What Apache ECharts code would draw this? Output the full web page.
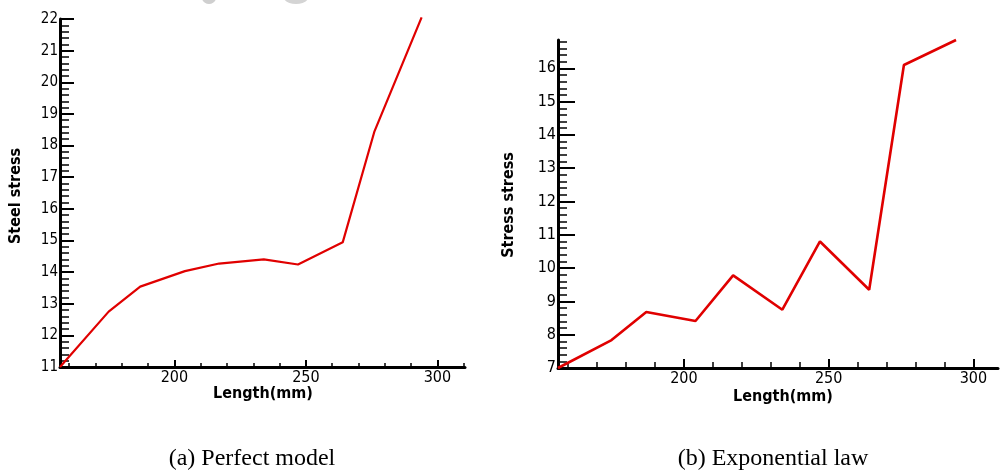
<!DOCTYPE html>
<html>
<head>
<meta charset="utf-8">
<script src="https://cdn.jsdelivr.net/npm/echarts@6/dist/echarts.min.js"></script>
<style>
  html, body { margin: 0; padding: 0; background: #ffffff; }
  #chart { width: 1000px; height: 476px; }
</style>
</head>
<body>
<div id="chart"></div>
<script>
// Length along the member (mm), shared by both panels
const lengthMm = [156.5, 175, 187, 204, 217, 234, 247, 264, 276, 294];

// (a) Perfect model: steel stress
const steelStress = [11.0, 12.75, 13.54, 14.03, 14.27, 14.40, 14.24, 14.94, 18.43, 22.05];

// (b) Exponential law: stress
const expStress = [7.0, 7.84, 8.68, 8.41, 9.78, 8.75, 10.8, 9.35, 16.1, 16.85];

// Tick positions
const xMajorTicks = [200, 250, 300];
const xMinorTicks = [160, 170, 180, 190, 210, 220, 230, 240, 260, 270, 280, 290, 300, 310];
const yMajorA = [11, 12, 13, 14, 15, 16, 17, 18, 19, 20, 21, 22];
const yMajorB = [7, 8, 9, 10, 11, 12, 13, 14, 15, 16];

function minorTicks(lo, hi, step) {
  const out = [];
  for (let v = lo; v <= hi + 1e-9; v += step) out.push(Math.round(v * 100) / 100);
  return out;
}

const labelFont = '"DejaVu Sans Condensed", "Liberation Sans Narrow", "DejaVu Sans", sans-serif';
const titleFont = '"DejaVu Sans Condensed", "DejaVu Sans", sans-serif';
const captionFont = '24px "Liberation Serif", "Times New Roman", serif';
const axisColor = '#000';
const red = '#e00000';

function xAxes(gridIndex, min, max, majorLen, minorLen, fontSize) {
  return [
    {
      type: 'value', gridIndex, min, max,
      axisLine: { lineStyle: { color: axisColor, width: 3 } },
      axisTick: { inside: true, length: majorLen, customValues: xMajorTicks, lineStyle: { color: axisColor, width: 2 } },
      axisLabel: { customValues: xMajorTicks, color: '#000', fontFamily: labelFont, fontSize, margin: 3 },
      splitLine: { show: false }
    },
    {
      type: 'value', gridIndex, min, max, position: 'bottom',
      axisLine: { show: false },
      axisTick: { inside: true, length: minorLen, customValues: xMinorTicks.filter(v => v <= max), lineStyle: { color: axisColor, width: 1.5 } },
      axisLabel: { show: false },
      splitLine: { show: false }
    }
  ];
}

function yAxes(gridIndex, min, max, majors, majorLen, minorLen, fontSize) {
  return [
    {
      type: 'value', gridIndex, min, max,
      axisLine: { show: true, lineStyle: { color: axisColor, width: 3 } },
      axisTick: { show: true, inside: true, length: majorLen, customValues: majors, lineStyle: { color: axisColor, width: 2 } },
      axisLabel: { customValues: majors, color: '#000', fontFamily: labelFont, fontSize, margin: 2 },
      splitLine: { show: false }
    },
    {
      type: 'value', gridIndex, min, max, position: 'left',
      axisLine: { show: false },
      axisTick: { show: true, inside: true, length: minorLen, customValues: minorTicks(min, max, 0.2), lineStyle: { color: axisColor, width: 1.5 } },
      axisLabel: { show: false },
      splitLine: { show: false }
    }
  ];
}

const chart = echarts.init(document.getElementById('chart'), null, { renderer: 'canvas' });

chart.setOption({
  backgroundColor: '#ffffff',
  animation: false,
  grid: [
    { left: 60, top: 19, width: 405, height: 348 },
    { left: 558, top: 40, width: 440, height: 328 }
  ],
  xAxis: [
    ...xAxes(0, 156.5, 310.5, 7, 4, 16),
    ...xAxes(1, 156.5, 308.5, 9, 6, 16)
  ],
  yAxis: [
    ...yAxes(0, 11, 22, yMajorA, 14, 9, 15),
    ...yAxes(1, 7, 16.85, yMajorB, 17, 9, 16)
  ],
  series: [
    {
      type: 'line', xAxisIndex: 0, yAxisIndex: 0,
      data: lengthMm.map((x, i) => [x, steelStress[i]]),
      showSymbol: false, clip: false,
      lineStyle: { color: red, width: 2.2 }
    },
    {
      type: 'line', xAxisIndex: 2, yAxisIndex: 2,
      data: lengthMm.map((x, i) => [x, expStress[i]]),
      showSymbol: false, clip: false,
      lineStyle: { color: red, width: 2.6 }
    }
  ],
  graphic: [
    // faint grey marks along the top edge
    { type: 'ellipse', shape: { cx: 209, cy: -2, rx: 7, ry: 6 }, style: { fill: '#cfcfcf' }, silent: true },
    { type: 'ellipse', shape: { cx: 296, cy: -4, rx: 13, ry: 8 }, style: { fill: '#d4d4d4' }, silent: true },
    // axis titles
    { type: 'text', rotation: Math.PI / 2, x: 16, y: 196,
      style: { text: 'Steel stress', font: 'bold 16px ' + titleFont, fill: '#000', textAlign: 'center', textVerticalAlign: 'middle' } },
    { type: 'text', rotation: Math.PI / 2, x: 509, y: 205,
      style: { text: 'Stress stress', font: 'bold 16px ' + titleFont, fill: '#000', textAlign: 'center', textVerticalAlign: 'middle' } },
    { type: 'text', x: 263, y: 394,
      style: { text: 'Length(mm)', font: 'bold 16px ' + titleFont, fill: '#000', textAlign: 'center', textVerticalAlign: 'middle' } },
    { type: 'text', x: 783, y: 397,
      style: { text: 'Length(mm)', font: 'bold 16px ' + titleFont, fill: '#000', textAlign: 'center', textVerticalAlign: 'middle' } },
    // panel captions
    { type: 'text', x: 252, y: 459,
      style: { text: '(a) Perfect model', font: captionFont, fill: '#000', textAlign: 'center', textVerticalAlign: 'middle' } },
    { type: 'text', x: 773, y: 459,
      style: { text: '(b) Exponential law', font: captionFont, fill: '#000', textAlign: 'center', textVerticalAlign: 'middle' } }
  ]
});
</script>
</body>
</html>
